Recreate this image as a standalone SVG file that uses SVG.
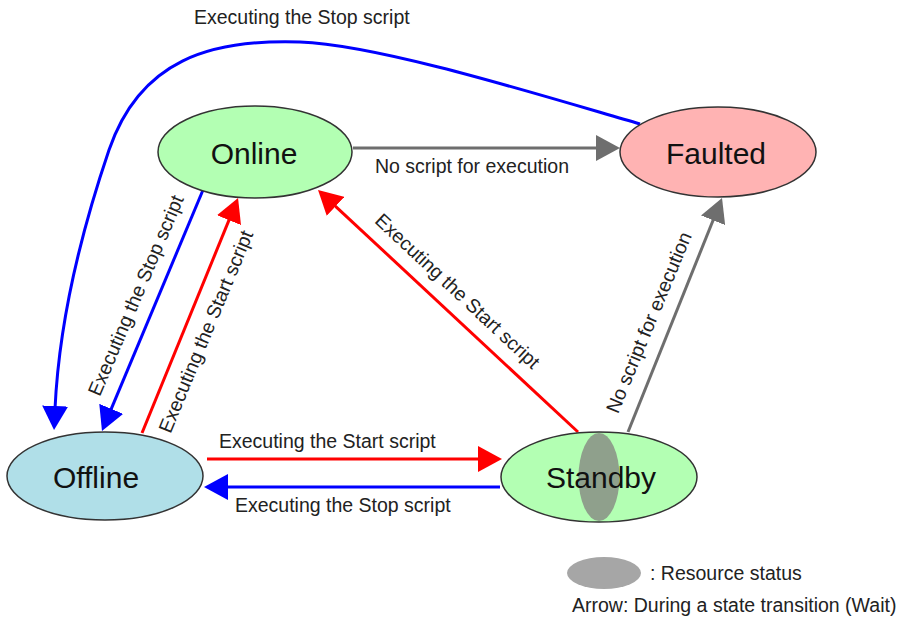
<svg xmlns="http://www.w3.org/2000/svg" width="899" height="626" viewBox="0 0 899 626">
<style>
.node{stroke:#333;stroke-width:1.5}
.nl{font-family:"Liberation Sans",Arial,sans-serif;font-size:30px;fill:#111;text-anchor:middle}
.lbl{font-family:"Liberation Sans",Arial,sans-serif;font-size:19.5px;fill:#222}
.mid{text-anchor:middle}
.c{fill:none;stroke-width:3}
.red{stroke:#ff0000}
.blue{stroke:#0000ff}
.gray{stroke:#6e6e6e}
</style>
<defs>
<marker id="ar" viewBox="0 0 24 26" refX="3" refY="13" markerWidth="24" markerHeight="26" markerUnits="userSpaceOnUse" orient="auto"><path d="M0,0 L24,13 L0,26 z" fill="#ff0000"/></marker>
<marker id="ab" viewBox="0 0 24 26" refX="3" refY="13" markerWidth="24" markerHeight="26" markerUnits="userSpaceOnUse" orient="auto"><path d="M0,0 L24,13 L0,26 z" fill="#0000ff"/></marker>
<marker id="ag" viewBox="0 0 24 26" refX="3" refY="13" markerWidth="24" markerHeight="26" markerUnits="userSpaceOnUse" orient="auto"><path d="M0,0 L24,13 L0,26 z" fill="#6e6e6e"/></marker>
</defs>
<rect width="899" height="626" fill="#fff"/>
<g id="connectors">
<path class="c gray" d="M353,148 L599,148" marker-end="url(#ag)"/>
<path class="c gray" d="M628,432 L714.2,217.5" marker-end="url(#ag)"/>
<path class="c blue" d="M640,124 C540,95 380,45 300,42 C210,39 140,60 109,150 C92,200 60,300 55,409" marker-end="url(#ab)"/>
<path class="c blue" d="M203,190 L110.1,411.6" marker-end="url(#ab)"/>
<path class="c red" d="M142,433 L230.1,217.4" marker-end="url(#ar)"/>
<path class="c red" d="M578,432 L333.4,204.3" marker-end="url(#ar)"/>
<path class="c red" d="M207,459 L481,459" marker-end="url(#ar)"/>
<path class="c blue" d="M500,487 L225,487" marker-end="url(#ab)"/>
<text class="lbl" x="194" y="24">Executing the Stop script</text>
<text class="lbl" x="375" y="173">No script for execution</text>
<text class="lbl" x="219" y="448">Executing the Start script</text>
<text class="lbl" x="235" y="512">Executing the Stop script</text>
<text class="lbl mid" transform="translate(142,298) rotate(-67)">Executing the Stop script</text>
<text class="lbl mid" transform="translate(212,334) rotate(-67.5)">Executing the Start script</text>
<text class="lbl mid" transform="translate(453,296) rotate(43)">Executing the Start script</text>
<text class="lbl mid" transform="translate(655,325) rotate(-67.5)">No script for execution</text>
</g>
<g id="online">
<ellipse class="node" cx="255" cy="152" rx="97" ry="46" fill="#b3ffb3"/>
<text class="nl" x="254" y="164">Online</text>
</g>
<g id="faulted">
<ellipse class="node" cx="718" cy="152" rx="98" ry="45" fill="#ffb3b3"/>
<text class="nl" x="716" y="164">Faulted</text>
</g>
<g id="offline">
<ellipse class="node" cx="105" cy="476" rx="98" ry="44" fill="#b0dfe8"/>
<text class="nl" x="96" y="488">Offline</text>
</g>
<g id="standby">
<ellipse class="node" cx="599" cy="477" rx="98" ry="45" fill="#b3ffb3"/>
<ellipse cx="599" cy="477" rx="20.5" ry="44" fill="#8fa08c"/>
<text class="nl" x="601" y="488">Standby</text>
</g>
<g id="legend">
<ellipse cx="604" cy="573" rx="37" ry="16" fill="#a6a6a6"/>
<text class="lbl" x="650" y="580">: Resource status</text>
<text class="lbl" x="572" y="612">Arrow: During a state transition (Wait)</text>
</g>
</svg>
